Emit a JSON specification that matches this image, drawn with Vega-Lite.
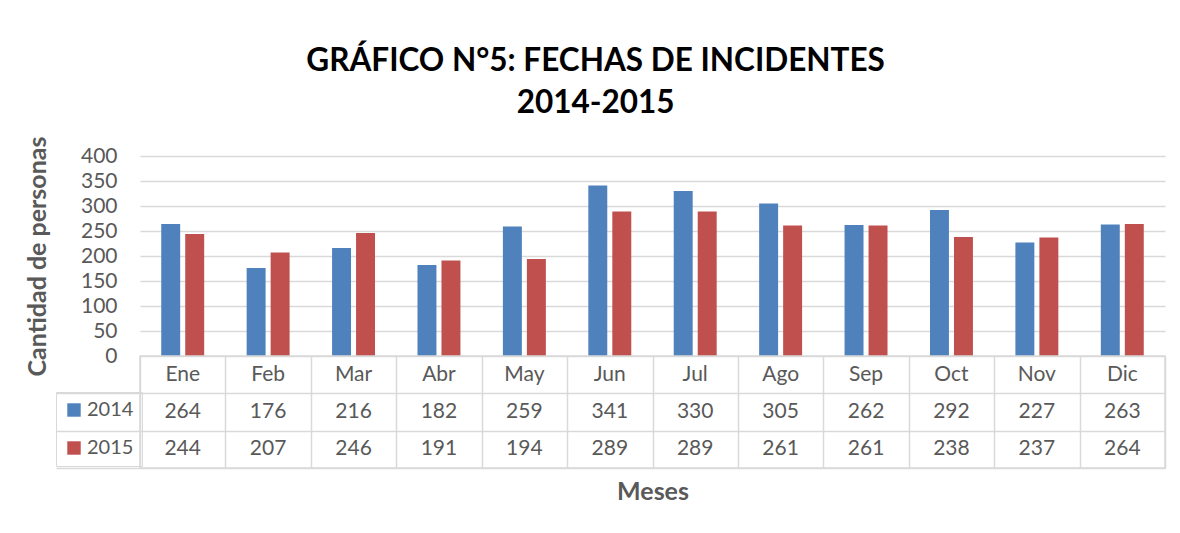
{
  "$schema": "https://vega.github.io/schema/vega-lite/v6.json",
  "background": "white",
  "padding": {"left": 25, "top": 46, "right": 10, "bottom": 0},
  "title": {"text": ["GRÁFICO N°5: FECHAS DE INCIDENTES", "2014-2015"], "fontSize": 31.5, "font": "Lato", "fontWeight": "bold", "color": "#000000", "anchor": "middle", "lineHeight": 42, "offset": 13},
  "data": {"values": [
    {"month": "Ene", "year": "2014", "value": 264}, {"month": "Ene", "year": "2015", "value": 244},
    {"month": "Feb", "year": "2014", "value": 176}, {"month": "Feb", "year": "2015", "value": 207},
    {"month": "Mar", "year": "2014", "value": 216}, {"month": "Mar", "year": "2015", "value": 246},
    {"month": "Abr", "year": "2014", "value": 182}, {"month": "Abr", "year": "2015", "value": 191},
    {"month": "May", "year": "2014", "value": 259}, {"month": "May", "year": "2015", "value": 194},
    {"month": "Jun", "year": "2014", "value": 341}, {"month": "Jun", "year": "2015", "value": 289},
    {"month": "Jul", "year": "2014", "value": 330}, {"month": "Jul", "year": "2015", "value": 289},
    {"month": "Ago", "year": "2014", "value": 305}, {"month": "Ago", "year": "2015", "value": 261},
    {"month": "Sep", "year": "2014", "value": 262}, {"month": "Sep", "year": "2015", "value": 261},
    {"month": "Oct", "year": "2014", "value": 292}, {"month": "Oct", "year": "2015", "value": 238},
    {"month": "Nov", "year": "2014", "value": 227}, {"month": "Nov", "year": "2015", "value": 237},
    {"month": "Dic", "year": "2014", "value": 263}, {"month": "Dic", "year": "2015", "value": 264}
  ]},
  "spacing": 0,
  "bounds": "flush",
  "resolve": {"scale": {"x": "independent", "y": "independent"}},
  "vconcat": [
    {
      "width": 1025,
      "height": 200,
      "view": {"stroke": null},
      "mark": {"type": "bar"},
      "encoding": {
        "x": {"field": "month", "type": "nominal", "sort": ["Ene","Feb","Mar","Abr","May","Jun","Jul","Ago","Sep","Oct","Nov","Dic"], "scale": {"paddingInner": 0, "paddingOuter": 0}, "axis": null},
        "xOffset": {"field": "year", "type": "nominal", "scale": {"paddingInner": 0.21, "paddingOuter": 0.885}},
        "y": {"field": "value", "type": "quantitative", "scale": {"domain": [0, 400]},
          "axis": {"values": [0,50,100,150,200,250,300,350,400], "title": "Cantidad de  personas", "titleFont": "Lato", "titleFontSize": 25, "titleFontWeight": "bold", "titleColor": "#595959", "titlePadding": 30,
            "labelFont": "Lato", "labelFontSize": 21, "labelColor": "#595959", "labelPadding": 23, "ticks": false, "domain": false, "grid": true, "gridColor": "#d9d9d9", "gridWidth": 1.3}},
        "color": {"field": "year", "type": "nominal", "scale": {"domain": ["2014","2015"], "range": ["#4f81bd","#c0504d"]},
          "legend": {"orient": "none", "legendX": -84, "legendY": 236, "title": null, "symbolType": "square", "symbolSize": 180, "symbolStrokeWidth": 0, "symbolOffset": 0,
            "labelFont": "Lato", "labelFontSize": 20, "labelColor": "#595959", "labelOffset": 3, "rowPadding": 18, "padding": 8, "strokeColor": "#d9d9d9"}}
      }
    },
    {
      "width": 1025,
      "height": 112,
      "view": {"stroke": "#d9d9d9", "strokeWidth": 1.5},
      "layer": [
        {
          "transform": [{"filter": "datum.year == '2014'"}],
          "mark": {"type": "text", "font": "Lato", "fontSize": 21, "color": "#595959"},
          "encoding": {
            "x": {"field": "month", "type": "nominal"},
            "y": {"datum": "Mes"},
            "text": {"field": "month"}
          }
        },
        {
          "mark": {"type": "text", "font": "Lato", "fontSize": 21, "color": "#595959"},
          "encoding": {
            "x": {"field": "month", "type": "nominal", "sort": ["Ene","Feb","Mar","Abr","May","Jun","Jul","Ago","Sep","Oct","Nov","Dic"],
              "scale": {"domain": ["Ene","Feb","Mar","Abr","May","Jun","Jul","Ago","Sep","Oct","Nov","Dic"], "paddingInner": 0, "paddingOuter": 0},
              "axis": {"orient": "bottom", "labels": false, "ticks": false, "domain": false, "grid": true, "tickBand": "extent", "gridColor": "#d9d9d9", "gridWidth": 1.5,
                "title": "Meses", "titleFont": "Lato", "titleFontSize": 25, "titleFontWeight": "bold", "titleColor": "#595959", "titlePadding": 11}},
            "y": {"field": "year", "type": "nominal",
              "scale": {"domain": ["Mes","2014","2015"], "paddingInner": 0, "paddingOuter": 0},
              "axis": {"values": ["2014","2015"], "labels": false, "domain": false, "grid": true, "tickBand": "extent", "gridColor": "#d9d9d9", "gridWidth": 1.5, "title": null,
                "ticks": true, "tickSize": 84, "tickColor": "#d9d9d9", "tickWidth": 1.5}},
            "text": {"field": "value", "type": "quantitative"}
          }
        }
      ]
    }
  ],
  "config": {"font": "Lato"}
}
